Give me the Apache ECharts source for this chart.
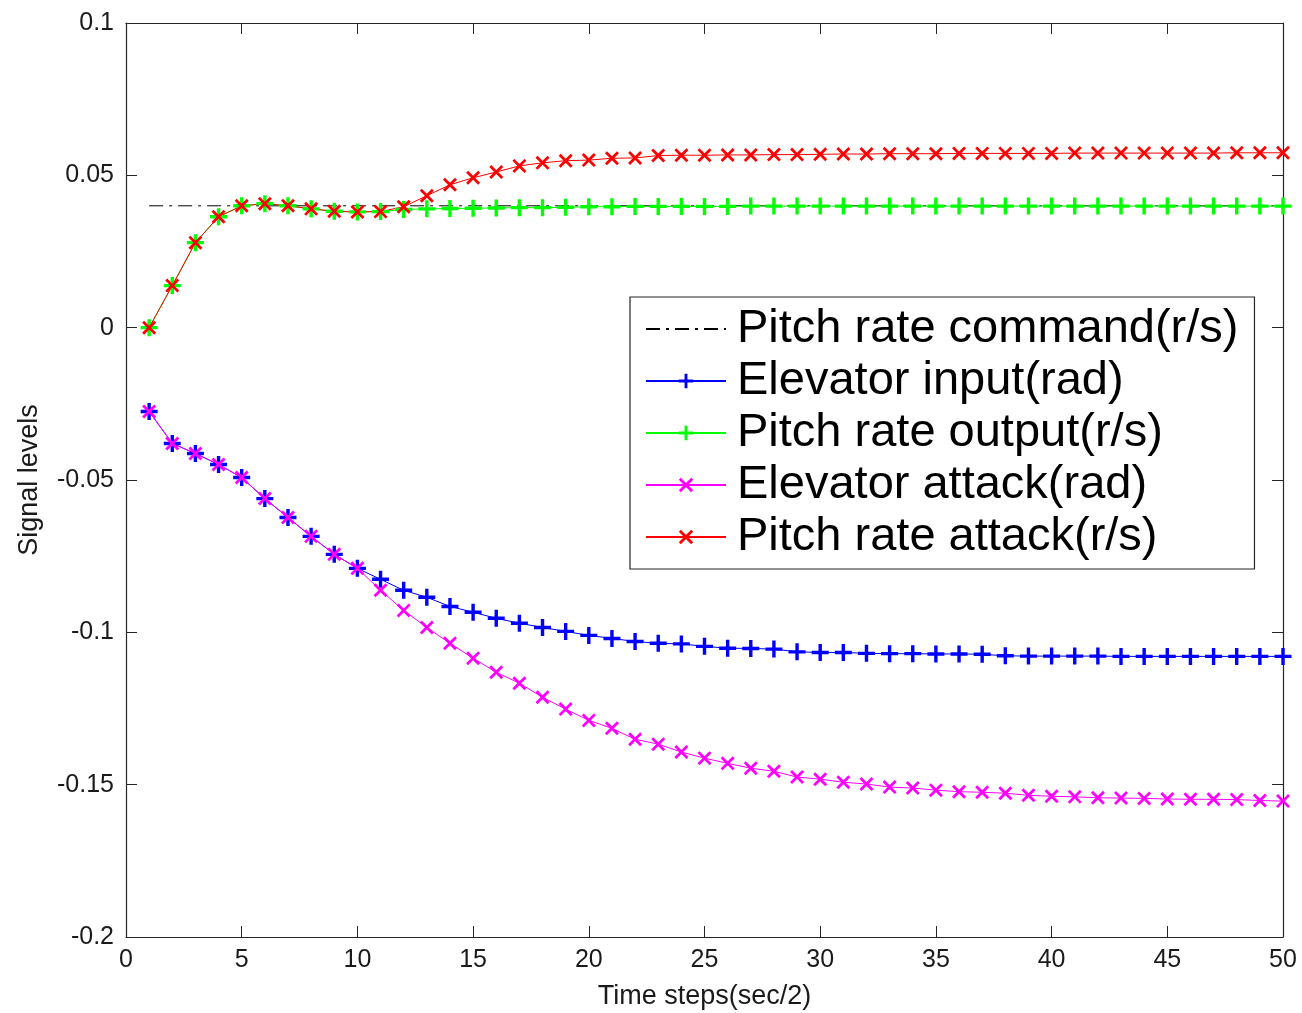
<!DOCTYPE html>
<html>
<head>
<meta charset="utf-8">
<script src="https://cdn.jsdelivr.net/npm/echarts@6/dist/echarts.min.js"></script>
<style>
  html, body { margin: 0; padding: 0; background: #fff; }
  #chart { width: 1302px; height: 1013px; }
</style>
</head>
<body>
<div id="chart"></div>
<script>
// time steps 1..50
const steps = [1,2,3,4,5,6,7,8,9,10,11,12,13,14,15,16,17,18,19,20,21,22,23,24,25,
  26,27,28,29,30,31,32,33,34,35,36,37,38,39,40,41,42,43,44,45,46,47,48,49,50];

const pitchCommand = [0.04,0.04,0.04,0.04,0.04,0.04,0.04,0.04,0.04,0.04,0.04,0.04,0.04,0.04,0.04,0.04,0.04,0.04,0.04,0.04,
  0.04,0.04,0.04,0.04,0.04,0.04,0.04,0.04,0.04,0.04,0.04,0.04,0.04,0.04,0.04,0.04,0.04,0.04,0.04,0.04,
  0.04,0.04,0.04,0.04,0.04,0.04,0.04,0.04,0.04,0.04];

const elevatorInput = [-0.0275,-0.0380,-0.0413,-0.0449,-0.0492,-0.0561,-0.0623,-0.0685,-0.0744,-0.0790,
  -0.0826,-0.0862,-0.0885,-0.0915,-0.0934,-0.0954,-0.0970,-0.0984,-0.0997,-0.1010,
  -0.1020,-0.1030,-0.1036,-0.1038,-0.1046,-0.1052,-0.1053,-0.1055,-0.1064,-0.1066,
  -0.1066,-0.1069,-0.1070,-0.1070,-0.1071,-0.1071,-0.1072,-0.1077,-0.1078,-0.1078,
  -0.1078,-0.1078,-0.1079,-0.1079,-0.1079,-0.1079,-0.1079,-0.1079,-0.1079,-0.1079];

const pitchOutput = [0,0.0138,0.0279,0.0364,0.0400,0.0407,0.0400,0.0390,0.0382,0.0380,
  0.0381,0.0388,0.0390,0.0391,0.0392,0.0393,0.0394,0.0394,0.0395,0.0397,
  0.0397,0.0398,0.0398,0.0398,0.0398,0.0398,0.0399,0.0399,0.0399,0.0399,
  0.0399,0.0399,0.0399,0.0399,0.0399,0.0399,0.0399,0.0399,0.0399,0.0399,
  0.0399,0.0399,0.0399,0.0399,0.0399,0.0399,0.0399,0.0399,0.0399,0.0399];

const elevatorAttack = [-0.0275,-0.0380,-0.0413,-0.0449,-0.0492,-0.0561,-0.0623,-0.0685,-0.0744,-0.0790,
  -0.0862,-0.0928,-0.0984,-0.1036,-0.1085,-0.1131,-0.1167,-0.1213,-0.1252,-0.1289,
  -0.1315,-0.1351,-0.1367,-0.1393,-0.1413,-0.1430,-0.1446,-0.1456,-0.1475,-0.1482,
  -0.1492,-0.1498,-0.1508,-0.1511,-0.1518,-0.1523,-0.1525,-0.1528,-0.1535,-0.1538,
  -0.1540,-0.1543,-0.1544,-0.1545,-0.1547,-0.1548,-0.1548,-0.1549,-0.1552,-0.1554];

const pitchAttack = [0,0.0138,0.0279,0.0364,0.0400,0.0407,0.0400,0.0390,0.0382,0.0380,
  0.0381,0.0397,0.0433,0.0469,0.0492,0.0511,0.0531,0.0541,0.0548,0.0550,
  0.0556,0.0557,0.0565,0.0566,0.0566,0.0567,0.0567,0.0568,0.0568,0.0569,
  0.0570,0.0570,0.0571,0.0571,0.0571,0.0572,0.0572,0.0572,0.0572,0.0572,
  0.0573,0.0573,0.0573,0.0573,0.0573,0.0573,0.0573,0.0574,0.0574,0.0574];

const seriesNames = ['Pitch rate command(r/s)', 'Elevator input(rad)', 'Pitch rate output(r/s)',
  'Elevator attack(rad)', 'Pitch rate attack(r/s)'];

// marker shapes, filled so the stroke weight scales with symbolSize
const PLUS = 'path://M0,4 L10,4 L10,6 L0,6 Z M4,0 L6,0 L6,10 L4,10 Z';
const CROSS = 'path://M0,1.4 L1.4,0 L10,8.6 L8.6,10 Z M8.6,0 L10,1.4 L1.4,10 L0,8.6 Z';

const FONT = 'Liberation Sans, Arial, Helvetica, sans-serif';
const axisColor = '#262626';

function pairs(vals) {
  return steps.map((s, i) => [s, vals[i]]);
}

function lineSeries(name, vals, color, symbol, size) {
  return {
    name: name,
    type: 'line',
    data: pairs(vals),
    symbol: symbol,
    symbolSize: size,
    animation: false,
    lineStyle: { color: color, width: 1 },
    itemStyle: { color: color },
    emphasis: { disabled: true }
  };
}

const chart = echarts.init(document.getElementById('chart'));

const xBase = {
  type: 'value', min: 0, max: 50, interval: 5,
  axisLine: { show: true, onZero: false, lineStyle: { color: axisColor, width: 1.2 } },
  axisTick: { show: true, inside: true, length: 11, lineStyle: { color: axisColor } },
  splitLine: { show: false }
};
const yBase = {
  type: 'value', min: -0.2, max: 0.1, interval: 0.05,
  axisLine: { show: true, onZero: false, lineStyle: { color: axisColor, width: 1.2 } },
  axisTick: { show: true, inside: true, length: 11, lineStyle: { color: axisColor } },
  splitLine: { show: false }
};

chart.setOption({
  backgroundColor: '#fff',
  textStyle: { fontFamily: FONT },
  grid: { left: 126, right: 19, top: 23, bottom: 76, containLabel: false, outerBoundsMode: 'none' },
  xAxis: [
    Object.assign({}, xBase, {
      position: 'bottom',
      name: 'Time steps(sec/2)', nameLocation: 'middle', nameGap: 46,
      nameTextStyle: { fontSize: 27, color: '#1a1a1a', fontFamily: FONT },
      axisLabel: { fontSize: 25, color: '#1a1a1a', margin: 11, fontFamily: FONT }
    }),
    Object.assign({}, xBase, { position: 'top', axisLabel: { show: false } })
  ],
  yAxis: [
    Object.assign({}, yBase, {
      position: 'left',
      name: 'Signal levels', nameLocation: 'middle', nameGap: 83,
      nameTextStyle: { fontSize: 27, color: '#1a1a1a', fontFamily: FONT },
      axisLabel: { fontSize: 25, color: '#1a1a1a', margin: 12, fontFamily: FONT }
    }),
    Object.assign({}, yBase, { position: 'right', axisLabel: { show: false } })
  ],
  legend: {
    orient: 'vertical',
    left: 630, top: 297,
    padding: [6, 16, 6, 15],
    itemGap: 0,
    itemWidth: 80,
    itemHeight: 18,
    backgroundColor: '#fff',
    borderColor: '#262626',
    borderWidth: 1.2,
    borderRadius: 0,
    selectedMode: false,
    textStyle: { fontSize: 47, color: '#000', fontFamily: FONT, lineHeight: 52, padding: [0, 0, 0, 6] },
    data: [
      { name: seriesNames[0], itemStyle: { opacity: 0 } },
      seriesNames[1], seriesNames[2], seriesNames[3], seriesNames[4]
    ]
  },
  series: [
    Object.assign(lineSeries(seriesNames[0], pitchCommand, '#000', 'none', 0), {
      lineStyle: { color: '#000', width: 1, type: [14, 6, 3, 6] }
    }),
    lineSeries(seriesNames[1], elevatorInput, '#0000ff', PLUS, 17),
    lineSeries(seriesNames[2], pitchOutput, '#00ff00', PLUS, 17),
    lineSeries(seriesNames[3], elevatorAttack, '#ff00ff', CROSS, 14),
    lineSeries(seriesNames[4], pitchAttack, '#ff0000', CROSS, 14)
  ]
});
</script>
</body>
</html>
